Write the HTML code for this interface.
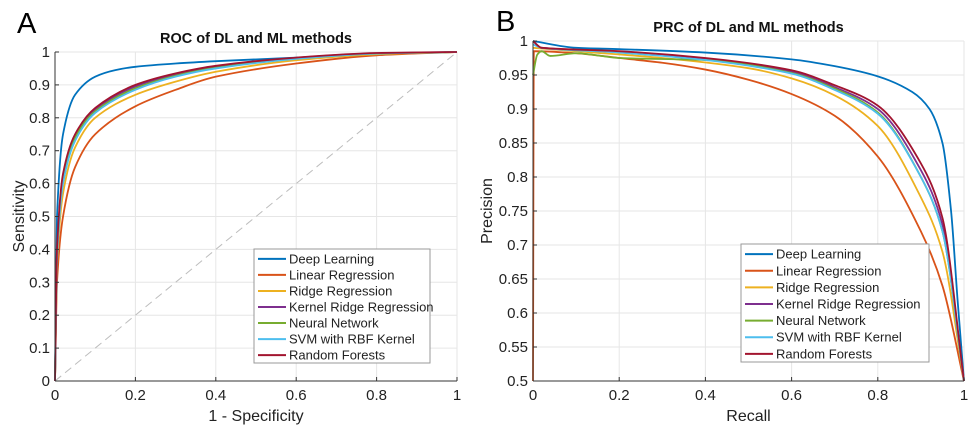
<!DOCTYPE html>
<html><head><meta charset="utf-8"><style>
body{margin:0;background:#fff;}
svg{display:block;font-family:"Liberation Sans",sans-serif;}
</style></head><body>
<svg id="fig" width="974" height="429" viewBox="0 0 974 429">
<rect x="0" y="0" width="974" height="429" fill="#fff"/>
<g id="roc"></g>
<g id="prc"></g>
</svg>
<script>
const seriesNames=["Deep Learning","Linear Regression","Ridge Regression","Kernel Ridge Regression","Neural Network","SVM with RBF Kernel","Random Forests"];
const seriesColors=["#0072BD","#D95319","#EDB120","#7E2F8E","#77AC30","#4DBEEE","#A2142F"];
// ROC data: [fpr, tpr]
const rocDL=[[0,0],[0.005,0.5],[0.02,0.75],[0.05,0.87],[0.1,0.925],[0.15,0.945],[0.2,0.955],[0.3,0.965],[0.4,0.972],[0.6,0.983],[0.8,0.993],[1,1]];
const rocLinear=[[0,0],[0.005,0.3],[0.02,0.5],[0.05,0.65],[0.1,0.75],[0.2,0.835],[0.3,0.885],[0.4,0.925],[0.6,0.965],[0.8,0.99],[1,1]];
const rocRidge=[[0,0],[0.005,0.35],[0.02,0.57],[0.05,0.71],[0.1,0.8],[0.2,0.87],[0.3,0.91],[0.4,0.94],[0.6,0.975],[0.8,0.993],[1,1]];
const rocKernel=[[0,0],[0.005,0.39],[0.02,0.62],[0.05,0.745],[0.1,0.825],[0.2,0.895],[0.3,0.932],[0.4,0.955],[0.6,0.982],[0.8,0.996],[1,1]];
const rocNN=[[0,0],[0.005,0.38],[0.02,0.61],[0.05,0.74],[0.1,0.82],[0.2,0.89],[0.3,0.928],[0.4,0.952],[0.6,0.98],[0.8,0.995],[1,1]];
const rocSVM=[[0,0],[0.005,0.37],[0.02,0.6],[0.05,0.73],[0.1,0.815],[0.2,0.885],[0.3,0.925],[0.4,0.95],[0.6,0.979],[0.8,0.995],[1,1]];
const rocRF=[[0,0],[0.005,0.4],[0.02,0.63],[0.05,0.75],[0.1,0.83],[0.2,0.9],[0.3,0.935],[0.4,0.958],[0.6,0.983],[0.8,0.997],[1,1]];
// PRC data: [recall, precision]
const prcDL=[[0,1],[0.1,0.99],[0.2,0.988],[0.4,0.983],[0.6,0.973],[0.7,0.963],[0.8,0.948],[0.88,0.925],[0.92,0.9],[0.95,0.85],[0.97,0.75],[0.985,0.62],[1,0.5]];
const prcLinear=[[0,0.5],[0.002,0.985],[0.1,0.982],[0.2,0.975],[0.3,0.968],[0.4,0.958],[0.5,0.943],[0.6,0.922],[0.7,0.89],[0.8,0.83],[0.9,0.72],[0.95,0.64],[1,0.5]];
const prcRidge=[[0,0.99],[0.1,0.985],[0.3,0.975],[0.5,0.96],[0.6,0.945],[0.7,0.92],[0.8,0.875],[0.9,0.77],[0.95,0.69],[1,0.5]];
const prcKernel=[[0,1],[0.02,0.99],[0.2,0.984],[0.4,0.974],[0.6,0.955],[0.7,0.932],[0.8,0.9],[0.9,0.81],[0.95,0.73],[1,0.5]];
const prcNN=[[0,0.95],[0.01,0.98],[0.02,0.985],[0.04,0.978],[0.1,0.982],[0.2,0.975],[0.4,0.972],[0.6,0.953],[0.7,0.93],[0.8,0.895],[0.9,0.8],[0.95,0.72],[1,0.5]];
const prcSVM=[[0,0.995],[0.02,0.99],[0.2,0.983],[0.4,0.972],[0.6,0.952],[0.7,0.928],[0.8,0.893],[0.9,0.8],[0.95,0.72],[1,0.5]];
const prcRF=[[0,1],[0.02,0.99],[0.2,0.985],[0.4,0.975],[0.6,0.957],[0.7,0.935],[0.8,0.905],[0.9,0.82],[0.95,0.74],[1,0.5]];
const rocSeries=[rocDL,rocLinear,rocRidge,rocKernel,rocNN,rocSVM,rocRF];
const prcSeries=[prcDL,prcLinear,prcRidge,prcKernel,prcNN,prcSVM,prcRF];
const rocXTicks=[0,0.2,0.4,0.6,0.8,1];
const rocYTicks=[0,0.1,0.2,0.3,0.4,0.5,0.6,0.7,0.8,0.9,1];
const prcXTicks=[0,0.2,0.4,0.6,0.8,1];
const prcYTicks=[0.5,0.55,0.6,0.65,0.7,0.75,0.8,0.85,0.9,0.95,1];
const NS="http://www.w3.org/2000/svg";
function mk(parent,tag,attrs,text){const e=document.createElementNS(NS,tag);for(const k in attrs)e.setAttribute(k,attrs[k]);if(text!==undefined)e.textContent=text;parent.appendChild(e);return e;}
// monotone cubic interpolation in x (Fritsch-Carlson), no overshoot
function smooth(p){const n=p.length;const d=[],m=[];
 for(let i=0;i<n-1;i++){const dx=p[i+1][0]-p[i][0];d.push(dx===0?0:(p[i+1][1]-p[i][1])/dx);}
 m[0]=d[0];m[n-1]=d[n-2];
 for(let i=1;i<n-1;i++){m[i]=(d[i-1]*d[i]<=0)?0:(2/(1/d[i-1]+1/d[i]));}
 let s="M"+p[0][0].toFixed(2)+","+p[0][1].toFixed(2);
 for(let i=0;i<n-1;i++){const h=(p[i+1][0]-p[i][0])/3;
  s+="C"+(p[i][0]+h).toFixed(2)+","+(p[i][1]+m[i]*h).toFixed(2)+" "+(p[i+1][0]-h).toFixed(2)+","+(p[i+1][1]-m[i+1]*h).toFixed(2)+" "+p[i+1][0].toFixed(2)+","+p[i+1][1].toFixed(2);}
 return s;}
function fmt(v){return String(+v.toFixed(2));}
function chart(g,o){
 const sx=v=>o.x0+(v-o.xmin)/(o.xmax-o.xmin)*(o.x1-o.x0);
 const sy=v=>o.y0-(v-o.ymin)/(o.ymax-o.ymin)*(o.y0-o.y1);
 const grid=mk(g,"g",{});
 
 
 o.xt.forEach(t=>{mk(grid,"line",{x1:sx(t),x2:sx(t),y1:o.y1,y2:o.y0,stroke:"#e6e6e6","stroke-width":1});});
 o.yt.forEach(t=>{mk(grid,"line",{x1:o.x0,x2:o.x1,y1:sy(t),y2:sy(t),stroke:"#e6e6e6","stroke-width":1});});
 if(o.diag){const dl=mk(g,"line",{x1:sx(0),y1:sy(0),x2:sx(1),y2:sy(1),stroke:"#bdbdbd","stroke-width":1,"stroke-dasharray":"8,5"});
  
  }
 o.series.forEach((s,i)=>{const p=mk(g,"path",{d:smooth(s.map(q=>[sx(q[0]),sy(q[1])])),fill:"none",stroke:seriesColors[i],"stroke-width":1.8});
  
  });
 mk(g,"line",{x1:o.x0,x2:o.x1,y1:o.y0,y2:o.y0,stroke:"#333","stroke-width":1});
 mk(g,"line",{x1:o.x0,x2:o.x0,y1:o.y0,y2:o.y1,stroke:"#333","stroke-width":1});
 o.xt.forEach(t=>{mk(g,"line",{x1:sx(t),x2:sx(t),y1:o.y0,y2:o.y0-4,stroke:"#333"});
  const tx=mk(g,"text",{x:sx(t),y:o.y0+19,"text-anchor":"middle","font-size":15,fill:"#222"},fmt(t));
  
  });
 o.yt.forEach(t=>{mk(g,"line",{x1:o.x0,x2:o.x0+4,y1:sy(t),y2:sy(t),stroke:"#333"});
  const tx=mk(g,"text",{x:o.x0-5,y:sy(t)+5,"text-anchor":"end","font-size":15,fill:"#222"},fmt(t));
  
  });
 const ti=mk(g,"text",{x:(o.x0+o.x1)/2,y:o.y1-9,"text-anchor":"middle","font-size":14.5,"font-weight":"bold",fill:"#111"},o.title);
 
 
 const xl=mk(g,"text",{x:(o.x0+o.x1)/2,y:o.y0+40,"text-anchor":"middle","font-size":16,fill:"#222"},o.xlabel);
 
 
 const yl=mk(g,"text",{x:0,y:0,"text-anchor":"middle","font-size":16,fill:"#222",transform:"translate("+o.ylx+","+(o.y0+o.y1)/2+") rotate(-90)"},o.ylabel);
 
 
 const pl=mk(g,"text",{x:o.px,y:o.py,"font-size":29,fill:"#000"},o.panel);
 
 
 const lg=mk(g,"g",{});
 
 
 mk(lg,"rect",{x:o.lx,y:o.ly,width:o.lw,height:o.lh,fill:"#fff",stroke:"#999","stroke-width":1});
 const step=o.lh/7.1;
 seriesNames.forEach((n,i)=>{const yy=o.ly+step*(i+0.55)+1;
  const e=mk(lg,"g",{});
  
  
  mk(e,"line",{x1:o.lx+4,x2:o.lx+32,y1:yy,y2:yy,stroke:seriesColors[i],"stroke-width":2});
  mk(e,"text",{x:o.lx+35,y:yy+4.5,"font-size":13,fill:"#222"},n);});
}
chart(document.getElementById("roc"),{x0:55,x1:457,y0:381,y1:52,xmin:0,xmax:1,ymin:0,ymax:1,xt:rocXTicks,yt:rocYTicks,series:rocSeries,diag:true,title:"ROC of DL and ML methods",xlabel:"1 - Specificity",ylabel:"Sensitivity",ylx:24,panel:"A",px:17,py:33,lx:254,ly:249,lw:176,lh:114});
chart(document.getElementById("prc"),{x0:533,x1:964,y0:381,y1:41,xmin:0,xmax:1,ymin:0.5,ymax:1,xt:prcXTicks,yt:prcYTicks,series:prcSeries,diag:false,title:"PRC of DL and ML methods",xlabel:"Recall",ylabel:"Precision",ylx:492,panel:"B",px:496,py:31,lx:741,ly:244,lw:188,lh:118});
</script>
</body></html>
